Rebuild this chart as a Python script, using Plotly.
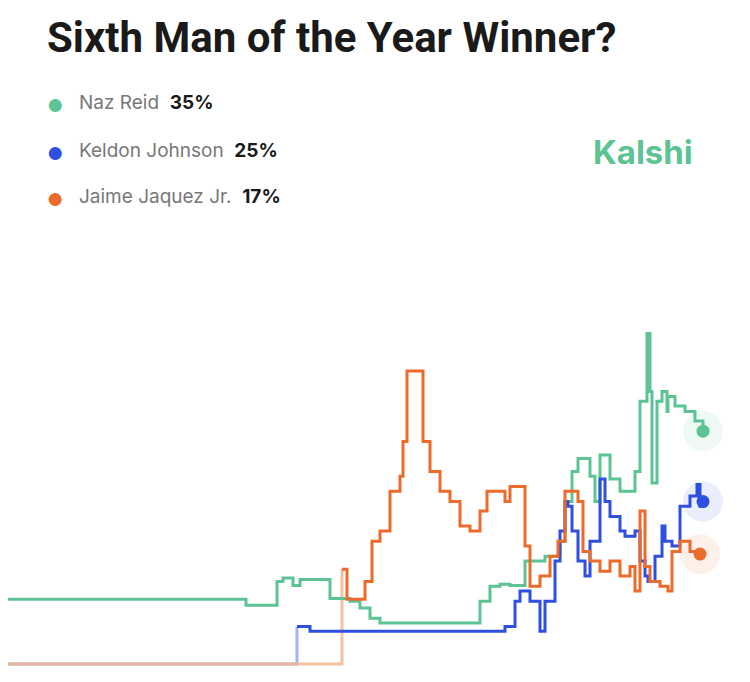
import plotly.graph_objects as go

# time index (chart position) and probability in %
naz_t = [0, 246, 277, 283, 293, 300, 330, 350, 360, 370, 380, 480, 490, 500, 510, 525, 545, 560, 565, 572,
         578, 583, 590, 595, 600, 610, 620, 635, 640, 647, 650, 652, 657, 662, 667, 668, 675, 685, 695, 703]
naz_p = [10.4, 9.5, 13.0, 13.5, 12.4, 13.3, 10.5, 10.1, 9.1, 7.6, 6.9, 10.1, 12.3, 12.6, 12.4, 16.0, 16.7, 18.9, 24.7, 29.1,
         31.0, 31.0, 28.4, 24.7, 31.5, 28.0, 26.2, 29.1, 39.4, 49.3, 40.8, 27.4, 39.4, 40.8, 37.9, 40.1, 38.7, 37.9, 36.5, 35.0]

kel_t = [0, 297, 310, 505, 515, 520, 530, 540, 545, 550, 555, 560, 565, 568, 572, 578, 585, 590, 600, 605,
         610, 620, 625, 635, 640, 645, 648, 655, 662, 665, 672, 680, 690, 697, 700, 703]
kel_p = [0.9, 6.4, 5.7, 6.4, 10.1, 11.6, 10.1, 5.7, 10.1, 10.1, 16.0, 20.4, 24.7, 24.0, 20.4, 16.0, 13.8, 18.9, 28.0, 24.7,
         22.5, 20.4, 19.6, 20.4, 16.0, 13.8, 13.0, 16.7, 21.1, 18.9, 18.2, 24.0, 25.5, 27.2, 24.0, 24.7]

jai_t = [0, 342, 347, 365, 372, 380, 390, 400, 403, 407, 420, 423, 430, 440, 450, 460, 470, 480, 487, 505,
         510, 520, 525, 530, 540, 550, 558, 565, 578, 583, 590, 600, 610, 620, 630, 635, 640, 645, 650, 660,
         668, 672, 680, 690, 700]
jai_p = [0.9, 14.8, 10.4, 13.0, 18.9, 20.4, 26.2, 28.4, 33.5, 43.8, 43.8, 33.5, 29.1, 26.2, 24.7, 21.1, 20.4, 23.3, 26.2, 24.7,
         26.9, 26.9, 18.2, 12.3, 13.8, 16.7, 18.9, 26.2, 24.7, 17.4, 16.0, 14.5, 16.0, 13.8, 15.2, 11.6, 23.3, 15.2, 13.0, 12.3,
         11.6, 17.4, 18.9, 17.4, 17.0]

names = ["Naz Reid", "Keldon Johnson", "Jaime Jaquez Jr."]
current = [35, 25, 17]
colors = ["#5cc393", "#2e4fe0", "#ec6b2a"]
fade = ["#a9dfc5", "#8fa2ef", "#f2b48b"]

W, H, OFF = 750, 682, 8  # page body adds an 8px offset


def px(x):
    return (x - OFF) / W


def py(y):
    return 1 - (y - OFF) / H


fig = go.Figure()

# faded flat start of blue and orange
for t, p, c in [(kel_t, kel_p, fade[1]), (jai_t, jai_p, fade[2])]:
    fig.add_trace(go.Scatter(x=t[:2], y=p[:2], mode="lines", line=dict(color=c, width=3, shape="hv"),
                             opacity=0.8, hoverinfo="skip"))

series = [(naz_t, naz_p), (kel_t[1:], kel_p[1:]), (jai_t[1:], jai_p[1:])]
for (t, p), c in zip(series, colors):
    fig.add_trace(go.Scatter(x=t, y=p, mode="lines", line=dict(color=c, width=3, shape="hv")))
    fig.add_trace(go.Scatter(x=[t[-1]], y=[p[-1]], mode="markers",
                             marker=dict(color=c, size=40, opacity=0.1), hoverinfo="skip"))
    fig.add_trace(go.Scatter(x=[t[-1]], y=[p[-1]], mode="markers",
                             marker=dict(color=c, size=13, line=dict(width=0)), hoverinfo="skip"))

fig.add_annotation(text="<b>Sixth Man of the Year Winner?</b>", xref="paper", yref="paper",
                   x=px(45), y=py(38), xanchor="left", yanchor="middle", showarrow=False,
                   font=dict(family="Roboto", size=42, color="#1a1a1a"))

for i, (n, v, c) in enumerate(zip(names, current, colors)):
    yy = py(103 + i * 47)
    fig.add_annotation(text="●", xref="paper", yref="paper", x=px(55), y=yy, showarrow=False,
                       font=dict(size=30, color=c), xanchor="center", yanchor="middle")
    fig.add_annotation(text=f"<span style='color:#777'>{n}</span>  <b>{v}%</b>", xref="paper", yref="paper",
                       x=px(77), y=yy, xanchor="left", yanchor="middle", showarrow=False,
                       font=dict(family="Inter, Noto Sans", size=19, color="#1a1a1a"))

fig.add_annotation(text="<b>Kalshi</b>", xref="paper", yref="paper", x=px(643), y=py(152),
                   xanchor="center", yanchor="middle", showarrow=False,
                   font=dict(family="Inter, Noto Sans", size=33, color="#5cc393"))

fig.update_layout(
    width=W, height=H, showlegend=False,
    paper_bgcolor="white", plot_bgcolor="white",
    margin=dict(l=0, r=0, t=0, b=0),
    xaxis=dict(range=[8, 758], visible=False, domain=[0, 1]),
    yaxis=dict(range=[-2.9, 58.9], visible=False, domain=[0, 422 / 682]),
)
fig.write_html("out.html")
